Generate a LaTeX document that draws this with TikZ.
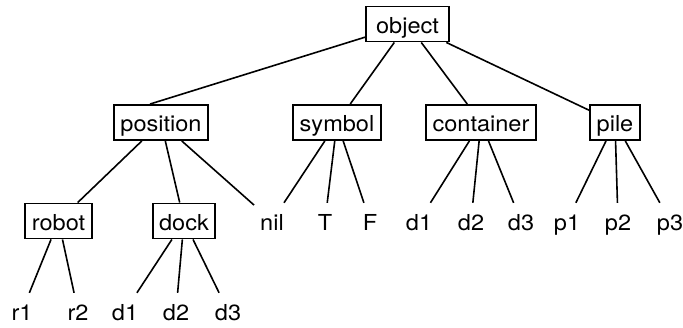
\documentclass[tikz,border=0pt]{standalone}
\usepackage{fontspec}
\setmainfont{TeX Gyre Heros}[FakeStretch=1.07]
\usepackage{tikz}
\tikzset{
  classNode/.style={shape=rectangle, draw=black, line width=1.9pt, inner xsep=6.5pt, inner ysep=0pt, minimum height=35pt, text height=18pt, text depth=0pt, font=\fontsize{22}{26}\selectfont},
  leafNode/.style={shape=rectangle, draw=none, inner xsep=6pt, inner ysep=0pt, minimum height=36pt, text height=18pt, text depth=0pt, font=\fontsize{22}{26}\selectfont},
  treeLink/.style={draw=black, -, line width=1.6pt}
}

\begin{document}
\begin{tikzpicture}[x=1pt,y=-1pt]
        \useasboundingbox (0,0) rectangle (683,327);
        \node[minimum width=83pt] (object) [classNode] at (407.5,24) {object};

        \node (position) [classNode] at (161,122.5) {position};
        \node (symbol) [classNode] at (337,122.5) {symbol};
        \node (container) [classNode] at (481,122.5) {container};
        \node (pile) [classNode] at (615,122.5) {pile};

        \node (robot) [classNode] at (58.5,221) {robot};
        \node (dock) [classNode] at (184,221) {dock};
        \node (nil) [leafNode] at (272,221) {nil};
        \node (T) [leafNode] at (325,221) {T};
        \node (F) [leafNode] at (370,221) {F};
        \node (cd1) [leafNode] at (419,221) {d1};
        \node (cd2) [leafNode] at (471,221) {d2};
        \node (cd3) [leafNode] at (521,221) {d3};
        \node (p1) [leafNode] at (567,221) {p1};
        \node (p2) [leafNode] at (618,221) {p2};
        \node (p3) [leafNode] at (670,221) {p3};

        \node (r1) [leafNode] at (22,311) {r1};
        \node (r2) [leafNode] at (78,311) {r2};
        \node (dd1) [leafNode] at (125,311) {d1};
        \node (dd2) [leafNode] at (176,311) {d2};
        \node (dd3) [leafNode] at (228,311) {d3};

         \path
    (object) edge [treeLink] ([xshift=-11pt]position.north)
    (object) edge [treeLink] (symbol)
    (object) edge [treeLink] (container)
    (object) edge [treeLink] (pile)
    (position) edge [treeLink] (robot)
    (position) edge [treeLink] (dock)
    (position) edge [treeLink] (nil)
    (symbol) edge [treeLink] (nil)
    (symbol) edge [treeLink] (T)
    (symbol) edge [treeLink] (F)
    (container) edge [treeLink] (cd1)
    (container) edge [treeLink] (cd2)
    (container) edge [treeLink] (cd3)
    (pile) edge [treeLink] (p1)
    (pile) edge [treeLink] (p2)
    (pile) edge [treeLink] (p3)
    (robot) edge [treeLink] (r1)
    (robot) edge [treeLink] (r2)
    (dock) edge [treeLink] (dd1)
    (dock) edge [treeLink] (dd2)
    (dock) edge [treeLink] (dd3);

\end{tikzpicture}
\end{document}
